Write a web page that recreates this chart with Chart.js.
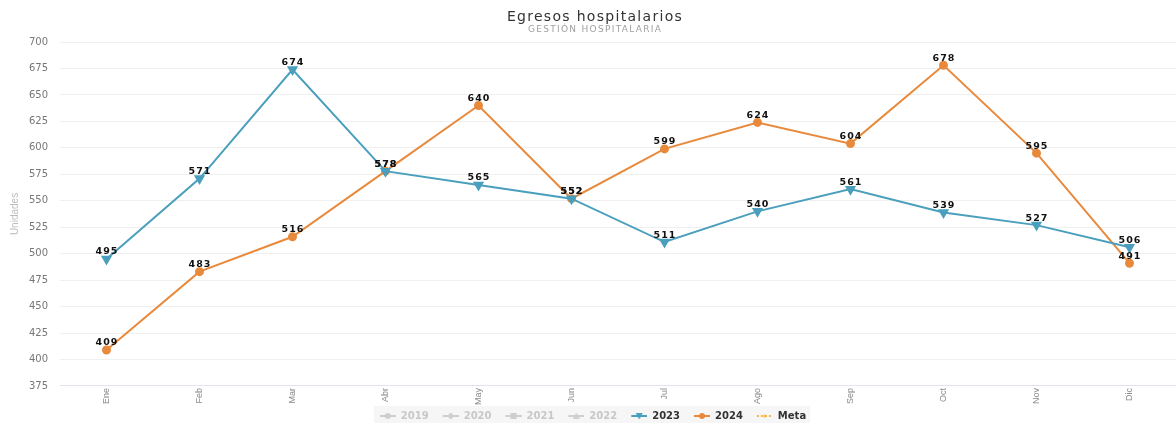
<!DOCTYPE html>
<html>
<head>
<meta charset="utf-8">
<script src="https://cdn.jsdelivr.net/npm/chart.js@4.4.1/dist/chart.umd.min.js"></script>
<style>
  html, body { margin: 0; padding: 0; background: #fff; }
  #wrap { width: 1176px; height: 423px; position: relative; }
</style>
</head>
<body>
<div id="wrap"><canvas id="c" width="1176" height="423"></canvas></div>
<script>
const categories = ['Ene','Feb','Mar','Abr','May','Jun','Jul','Ago','Sep','Oct','Nov','Dic'];
const values2023 = [495, 571, 674, 578, 565, 552, 511, 540, 561, 539, 527, 506];
const values2024 = [409, 483, 516, 578, 640, 552, 599, 624, 604, 678, 595, 491];
const valuesMeta = [];
const hiddenYears = ['2019', '2020', '2021', '2022'];
const yTicks = [375, 400, 425, 450, 475, 500, 525, 550, 575, 600, 625, 650, 675, 700];
const titleText = 'Egresos hospitalarios';
const subtitleText = 'GESTIÓN HOSPITALARIA';

const BLUE = '#4a9fbd';
const ORANGE = '#e8893b';
const META = '#f5b53f';
const GREY = '#cfcfcf';
const ICON_PAD = 10;

function legendIcon(color, style, dashed) {
  const c = document.createElement('canvas');
  c.width = 16 + ICON_PAD; c.height = 10;
  const x = c.getContext('2d');
  x.translate(ICON_PAD, 0);
  x.strokeStyle = color; x.fillStyle = color; x.lineWidth = 2;
  if (dashed) x.setLineDash([2, 2]);
  x.beginPath(); x.moveTo(0, 5); x.lineTo(16, 5); x.stroke();
  x.setLineDash([]);
  x.beginPath();
  if (style === 'circle') { x.arc(8, 5, 3, 0, Math.PI * 2); x.fill(); }
  else if (style === 'rect') { x.fillRect(5, 2, 6, 6); }
  else if (style === 'tri') { x.moveTo(8, 1.5); x.lineTo(11.5, 8); x.lineTo(4.5, 8); x.closePath(); x.fill(); }
  else if (style === 'tridown') { x.moveTo(4.5, 2); x.lineTo(11.5, 2); x.lineTo(8, 8.5); x.closePath(); x.fill(); }
  else if (style === 'diamond') { x.moveTo(8, 1.5); x.lineTo(11.5, 5); x.lineTo(8, 8.5); x.lineTo(4.5, 5); x.closePath(); x.fill(); }
  else if (style === 'small') { x.arc(8, 5, 1.5, 0, Math.PI * 2); x.fill(); }
  return c;
}

const iconStyles = ['circle', 'diamond', 'rect', 'tri'];

const datasets = [];
hiddenYears.forEach((y, i) => {
  datasets.push({ label: y, data: [], hidden: true, borderColor: GREY, backgroundColor: GREY,
    _icon: legendIcon(GREY, iconStyles[i], false), _grey: true });
});
datasets.push({
  label: '2023', data: values2023, borderColor: BLUE, backgroundColor: BLUE,
  borderWidth: 2, pointStyle: 'triangle', rotation: 180, pointRadius: 4.5, pointHoverRadius: 5,
  tension: 0, _icon: legendIcon(BLUE, 'tridown', false)
});
datasets.push({
  label: '2024', data: values2024, borderColor: ORANGE, backgroundColor: ORANGE,
  borderWidth: 2, pointStyle: 'circle', pointRadius: 3.5, pointHoverRadius: 4,
  tension: 0, _icon: legendIcon(ORANGE, 'circle', false)
});
datasets.push({
  label: 'Meta', data: valuesMeta, borderColor: META, backgroundColor: META,
  borderWidth: 1.5, borderDash: [3, 3], pointRadius: 2,
  _icon: legendIcon(META, 'small', true)
});

const titles = {
  id: 'titles',
  afterDraw(chart) {
    const ctx = chart.ctx;
    ctx.save();
    ctx.textAlign = 'center';
    ctx.textBaseline = 'middle';
    try { ctx.letterSpacing = '1.3px'; } catch (e) {}
    ctx.fillStyle = '#333';
    ctx.font = '14px "DejaVu Sans"';
    ctx.fillText(titleText, 595, 17);
    ctx.fillStyle = '#a0a0a0';
    ctx.font = '9px "DejaVu Sans"';
    ctx.fillText(subtitleText, 595, 30);
    ctx.restore();
  }
};

const dataLabels = {
  id: 'dataLabels',
  afterDatasetsDraw(chart) {
    const ctx = chart.ctx;
    ctx.save();
    ctx.font = 'bold 9.5px "DejaVu Sans"';
    ctx.fillStyle = '#111';
    ctx.textAlign = 'center';
    ctx.textBaseline = 'middle';
    try { ctx.letterSpacing = '1px'; } catch (e) {}
    chart.data.datasets.forEach((ds, di) => {
      if (!chart.isDatasetVisible(di)) return;
      const meta = chart.getDatasetMeta(di);
      meta.data.forEach((pt, i) => {
        const v = ds.data[i];
        if (v == null) return;
        ctx.fillText(String(v), pt.x + 0.5, pt.y - 7);
      });
    });
    ctx.restore();
  }
};

const legendBg = {
  id: 'legendBg',
  beforeDraw(chart) {
    const lg = chart.legend;
    if (!lg || !lg.legendHitBoxes || !lg.legendHitBoxes.length) return;
    let l = Infinity, r = -Infinity, t = Infinity;
    lg.legendHitBoxes.forEach(h => {
      l = Math.min(l, h.left); r = Math.max(r, h.left + h.width);
      t = Math.min(t, h.top);
    });
    const ctx = chart.ctx;
    ctx.save();
    ctx.fillStyle = '#f6f6f6';
    ctx.fillRect(l + ICON_PAD - 6, t - 5, r - l - ICON_PAD + 10, 30);
    ctx.restore();
  }
};

new Chart(document.getElementById('c'), {
  type: 'line',
  data: { labels: categories, datasets },
  plugins: [legendBg, dataLabels, titles],
  options: {
    responsive: false,
    animation: false,
    layout: { autoPadding: false, padding: { left: 0, right: 0, top: 42, bottom: -8 } },
    plugins: {
      title: { display: false },
      subtitle: { display: false },
      tooltip: { enabled: false },
      legend: {
        position: 'bottom',
        onClick: null,
        labels: {
          usePointStyle: true,
          pointStyleWidth: 16 + ICON_PAD,
          boxHeight: 10,
          padding: 4,
          font: { family: '"DejaVu Sans"', size: 10, weight: 'bold' },
          generateLabels(chart) {
            return chart.data.datasets.map((ds, i) => ({
              text: ds.label,
              fillStyle: ds.borderColor,
              strokeStyle: ds.borderColor,
              fontColor: ds._grey ? '#c8c8c8' : '#333',
              pointStyle: ds._icon,
              hidden: false,
              lineWidth: 0,
              datasetIndex: i
            }));
          }
        }
      }
    },
    scales: {
      x: {
        offset: true,
        grid: { display: false, drawTicks: false },
        border: { display: false },
        ticks: {
          color: '#888', maxRotation: 90, minRotation: 90, padding: 2,
          font: { family: '"Liberation Sans Narrow", "Liberation Sans"', size: 9 }
        }
      },
      y: {
        min: 375, max: 700,
        afterBuildTicks(s) { s.ticks = yTicks.map(v => ({ value: v })); },
        grid: {
          drawTicks: false,
          color: ctx => (ctx.tick && ctx.tick.value === 375) ? '#dfe4ee' : '#efefef',
          lineWidth: 1
        },
        border: { display: false },
        ticks: {
          color: '#777', padding: 12,
          font: { family: '"DejaVu Sans"', size: 10 }
        },
        title: {
          display: true, text: 'Unidades', color: '#bdbdbd',
          font: { family: '"Liberation Sans Narrow", "Liberation Sans"', size: 10 },
          padding: { top: 9, bottom: 0 }
        },
        afterFit(s) { s.width = 60; }
      }
    }
  }
});
</script>
</body>
</html>
